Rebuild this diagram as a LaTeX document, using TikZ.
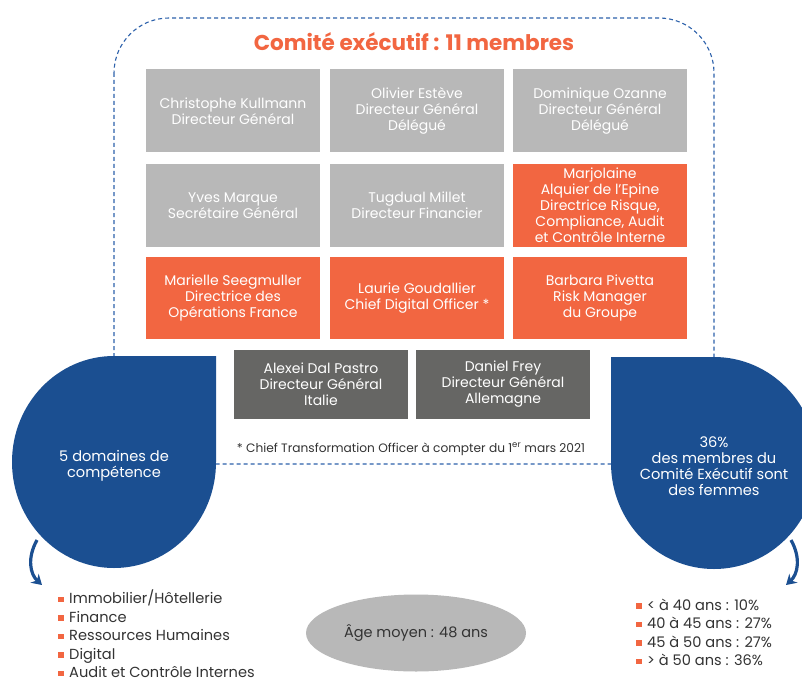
\documentclass[tikz,border=0pt]{standalone}
\usepackage{fontspec}
\setmainfont{Poppins}
\usetikzlibrary{arrows.meta,shapes.geometric}
\definecolor{cgray}{HTML}{B8B8B8}
\definecolor{corange}{HTML}{F26641}
\definecolor{cdark}{HTML}{666664}
\definecolor{cblue}{HTML}{1B4F91}
\definecolor{cdash}{HTML}{2E62AC}
\definecolor{ctext}{HTML}{333333}
\newcommand\bulsq{\textcolor{corange}{\raisebox{1.8pt}{\rule{5.5pt}{5.5pt}}}\hspace{5.5pt}}
\tikzset{
  mbox/.style={minimum width=174pt, minimum height=83pt, inner sep=0pt, align=center,
    text=white, font=\fontsize{14}{16}\selectfont},
  graybox/.style={mbox, fill=cgray},
  orangebox/.style={mbox, fill=corange},
  darkbox/.style={mbox, fill=cdark, minimum height=69pt},
  droptext/.style={text=white, align=center, font=\fontsize{14.6}{16}\selectfont},
  listtext/.style={text=ctext, align=left, anchor=west, inner sep=0pt, font=\fontsize{14.6}{18.5}\selectfont},
  curvarrow/.style={cblue, line width=3.2pt, -{Stealth[length=10pt,width=12pt]}},
  dashframe/.style={cdash, line width=1.1pt, dash pattern=on 4pt off 3pt, rounded corners=55pt}
}
\begin{document}
\begin{tikzpicture}[x=1pt,y=-1pt]
\useasboundingbox (0,0) rectangle (802,679);
\clip (0,0) rectangle (802,679);
\fill[white] (0,0) rectangle (802,679);
% dashed frame
\draw[dashframe] (114,18) rectangle (714,464);
% title
\node[font=\fontsize{21.5}{24}\selectfont\bfseries, text=corange] (title) at (414,42) {Comité exécutif : 11 membres};
% row 1
\node[graybox] (kull) at (233,111) {Christophe Kullmann\\Directeur Général};
\node[graybox] (este) at (417,111) {Olivier Estève\\Directeur Général\\Délégué};
\node[graybox] (ozan) at (600,111) {Dominique Ozanne\\Directeur Général\\Délégué};
% row 2
\node[graybox] (marq) at (233,205.5) {Yves Marque\\Secrétaire Général};
\node[graybox] (mill) at (417,205.5) {Tugdual Millet\\Directeur Financier};
\node[orangebox] (alqu) at (600,205.5) {Marjolaine\\Alquier de l’Epine\\Directrice Risque,\\Compliance, Audit\\et Contrôle Interne};
% row 3
\node[orangebox, minimum height=82pt] (seeg) at (233,298) {Marielle Seegmuller\\Directrice des\\Opérations France};
\node[orangebox, minimum height=82pt] (goud) at (417,298) {Laurie Goudallier\\Chief Digital Officer *};
\node[orangebox, minimum height=82pt] (piv) at (600,298) {Barbara Pivetta\\Risk Manager\\du Groupe};
% row 4
\node[darkbox] (dal) at (321,384.5) {Alexei Dal Pastro\\Directeur Général\\Italie};
\node[darkbox] (frey) at (503,384.5) {Daniel Frey\\Directeur Général\\Allemagne};
% footnote
\node[font=\fontsize{12.2}{14}\selectfont, text=ctext] (note) at (411,449) {* Chief Transformation Officer à compter du 1\textsuperscript{er} mars 2021};
% drops
\fill[cblue] (114,356) -- (216,356) -- (216,462) arc[start angle=0, end angle=270, x radius=102, y radius=106] -- cycle;
\fill[cblue] (714,357) -- (611,357) -- (611,463) arc[start angle=180, end angle=-90, x radius=103, y radius=106] -- cycle;
\node[droptext] (dom) at (114,466) {5 domaines de\\compétence};
\node[droptext] (fem) at (714,466) {36\%\\des membres du\\Comité Exécutif sont\\des femmes};
% arrows
\coordinate (la1) at (37,540);
\coordinate (la2) at (42,585);
\coordinate (ra1) at (791,540);
\coordinate (ra2) at (786,585);
\draw[curvarrow] (la1) .. controls (27,558) and (30,574) .. (la2);
\draw[curvarrow] (ra1) .. controls (801,558) and (798,574) .. (ra2);
% lists
\node[listtext] (dlist) at (58,634) {\bulsq Immobilier/Hôtellerie\\\bulsq Finance\\\bulsq Ressources Humaines\\\bulsq Digital\\\bulsq Audit et Contrôle Internes};
\node[listtext] (alist) at (636,632.5) {\bulsq < à 40 ans : 10\%\\\bulsq 40 à 45 ans : 27\%\\\bulsq 45 à 50 ans : 27\%\\\bulsq > à 50 ans : 36\%};
% age ellipse
\node[ellipse, fill=cgray, minimum width=220pt, minimum height=77pt, text=ctext, font=\fontsize{14.5}{16}\selectfont] (age) at (416,633) {Âge moyen : 48 ans};
\end{tikzpicture}
\end{document}
